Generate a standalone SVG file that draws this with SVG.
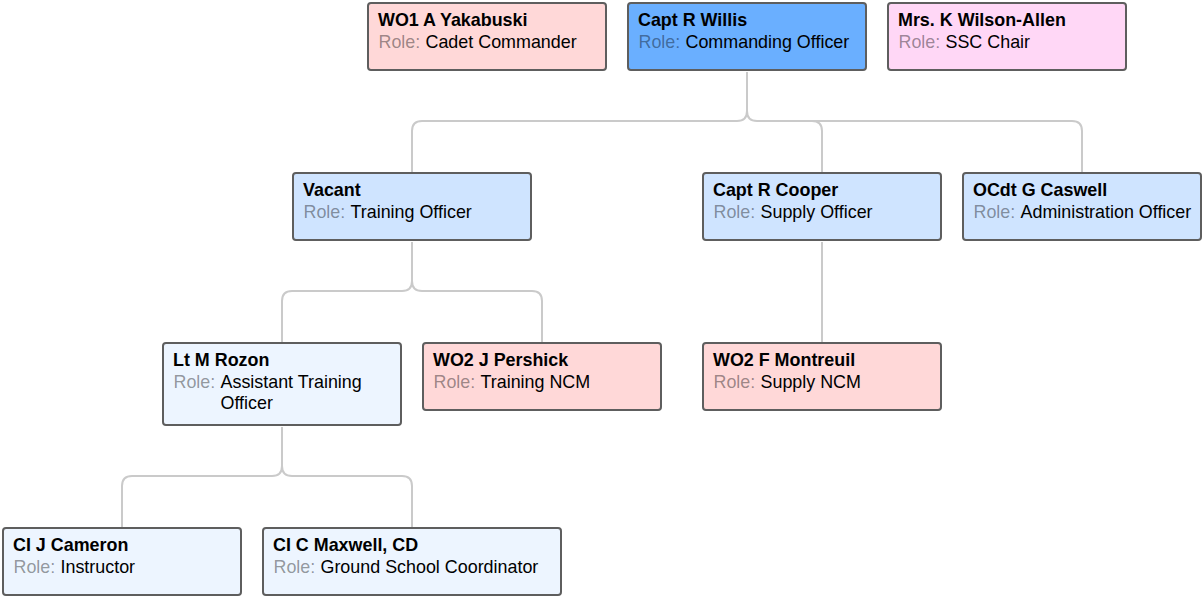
<svg xmlns="http://www.w3.org/2000/svg" width="1202" height="597" viewBox="0 0 1202 597">
<style>
.box{stroke:#5e5e5e;stroke-width:2}
.pink{fill:#ffd8d8}
.dark{fill:#6aafff}
.mag{fill:#ffd7f6}
.lb{fill:#cfe4ff}
.vlb{fill:#edf5ff}
text{font-family:"Liberation Sans",Arial,sans-serif;font-size:17.9px;fill:#000}
.name{font-weight:bold}
.lbl{fill:#000;fill-opacity:0.4}
.conn{fill:none;stroke:#cacaca;stroke-width:2}
</style>
<rect width="1202" height="597" fill="#ffffff"/>
<g id="connectors">
<path class="conn" d="M747,72 V111 Q747,121 737,121 H422 Q412,121 412,131 V172"/>
<path class="conn" d="M747,111 Q747,121 757,121 H812 Q822,121 822,131 V172"/>
<path class="conn" d="M812,121 H1072 Q1082,121 1082,131 V172"/>
<path class="conn" d="M412,242 V281 Q412,291 402,291 H292 Q282,291 282,301 V342"/>
<path class="conn" d="M412,281 Q412,291 422,291 H532 Q542,291 542,301 V342"/>
<path class="conn" d="M822,242 V342"/>
<path class="conn" d="M282,427 V466 Q282,476 272,476 H132 Q122,476 122,486 V527"/>
<path class="conn" d="M282,466 Q282,476 292,476 H402 Q412,476 412,486 V527"/>
</g>
<g id="yakabuski">
<rect class="box pink" x="368" y="3" width="238" height="67" rx="3"/>
<text class="name" x="378" y="26">WO1 A Yakabuski</text>
<text x="378.5" y="47.5"><tspan class="lbl">Role:</tspan><tspan x="425.5">Cadet Commander</tspan></text>
</g>
<g id="willis">
<rect class="box dark" x="628" y="3" width="238" height="67" rx="3"/>
<text class="name" x="638" y="26">Capt R Willis</text>
<text x="638.5" y="47.5"><tspan class="lbl">Role:</tspan><tspan x="685.5">Commanding Officer</tspan></text>
</g>
<g id="wilson-allen">
<rect class="box mag" x="888" y="3" width="238" height="67" rx="3"/>
<text class="name" x="898" y="26">Mrs. K Wilson-Allen</text>
<text x="898.5" y="47.5"><tspan class="lbl">Role:</tspan><tspan x="945.5">SSC Chair</tspan></text>
</g>
<g id="vacant">
<rect class="box lb" x="293" y="173" width="238" height="67" rx="3"/>
<text class="name" x="303" y="196">Vacant</text>
<text x="303.5" y="217.5"><tspan class="lbl">Role:</tspan><tspan x="350.5">Training Officer</tspan></text>
</g>
<g id="cooper">
<rect class="box lb" x="703" y="173" width="238" height="67" rx="3"/>
<text class="name" x="713" y="196">Capt R Cooper</text>
<text x="713.5" y="217.5"><tspan class="lbl">Role:</tspan><tspan x="760.5">Supply Officer</tspan></text>
</g>
<g id="caswell">
<rect class="box lb" x="963" y="173" width="238" height="67" rx="3"/>
<text class="name" x="973" y="196">OCdt G Caswell</text>
<text x="973.5" y="217.5"><tspan class="lbl">Role:</tspan><tspan x="1020.5">Administration Officer</tspan></text>
</g>
<g id="rozon">
<rect class="box vlb" x="163" y="343" width="238" height="82" rx="3"/>
<text class="name" x="173" y="366">Lt M Rozon</text>
<text x="173.5" y="387.5"><tspan class="lbl">Role:</tspan><tspan x="220.5">Assistant Training</tspan></text>
<text x="220.5" y="409">Officer</text>
</g>
<g id="pershick">
<rect class="box pink" x="423" y="343" width="238" height="67" rx="3"/>
<text class="name" x="433" y="366">WO2 J Pershick</text>
<text x="433.5" y="387.5"><tspan class="lbl">Role:</tspan><tspan x="480.5">Training NCM</tspan></text>
</g>
<g id="montreuil">
<rect class="box pink" x="703" y="343" width="238" height="67" rx="3"/>
<text class="name" x="713" y="366">WO2 F Montreuil</text>
<text x="713.5" y="387.5"><tspan class="lbl">Role:</tspan><tspan x="760.5">Supply NCM</tspan></text>
</g>
<g id="cameron">
<rect class="box vlb" x="3" y="528" width="238" height="67" rx="3"/>
<text class="name" x="13" y="551">CI J Cameron</text>
<text x="13.5" y="572.5"><tspan class="lbl">Role:</tspan><tspan x="60.5">Instructor</tspan></text>
</g>
<g id="maxwell">
<rect class="box vlb" x="263" y="528" width="298" height="67" rx="3"/>
<text class="name" x="273" y="551">CI C Maxwell, CD</text>
<text x="273.5" y="572.5"><tspan class="lbl">Role:</tspan><tspan x="320.5">Ground School Coordinator</tspan></text>
</g>
</svg>
